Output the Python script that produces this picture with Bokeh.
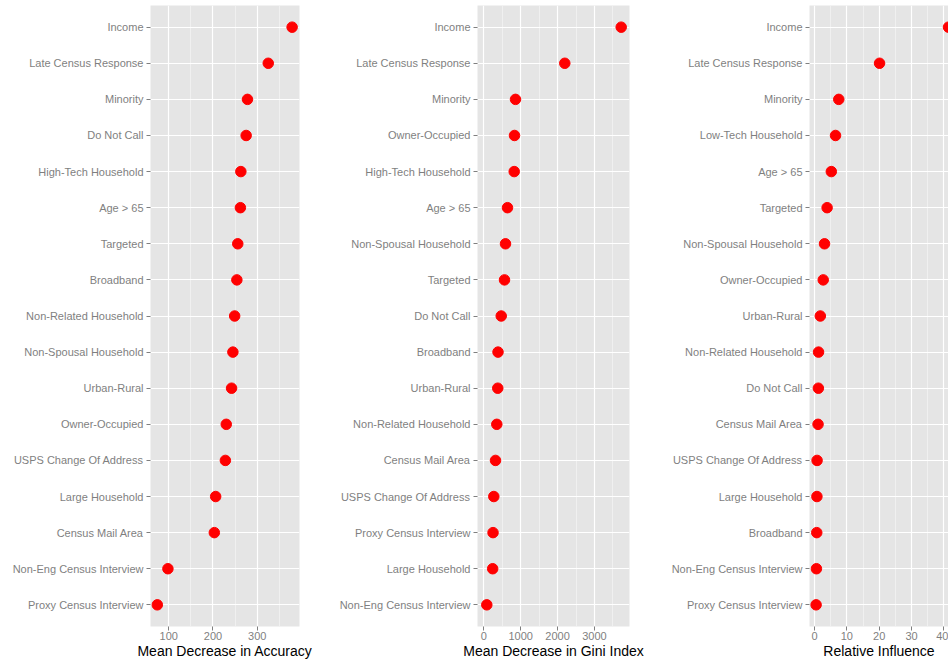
from bokeh.plotting import figure
from bokeh.layouts import row
from bokeh.models import FactorRange, Range1d, FixedTicker, ColumnDataSource
from bokeh.embed import file_html
from bokeh.resources import INLINE

# ---- data ----
acc_vars = ["Income", "Late Census Response", "Minority", "Do Not Call",
            "High-Tech Household", "Age > 65", "Targeted", "Broadband",
            "Non-Related Household", "Non-Spousal Household", "Urban-Rural",
            "Owner-Occupied", "USPS Change Of Address", "Large Household",
            "Census Mail Area", "Non-Eng Census Interview", "Proxy Census Interview"]
acc_vals = [379, 325, 278, 275, 263, 262, 256, 254, 249, 245, 242, 230, 228,
            206, 203, 98, 74]

gini_vars = ["Income", "Late Census Response", "Minority", "Owner-Occupied",
             "High-Tech Household", "Age > 65", "Non-Spousal Household", "Targeted",
             "Do Not Call", "Broadband", "Urban-Rural", "Non-Related Household",
             "Census Mail Area", "USPS Change Of Address", "Proxy Census Interview",
             "Large Household", "Non-Eng Census Interview"]
gini_vals = [3724, 2195, 859, 832, 824, 642, 588, 561, 472, 385, 378, 352, 317,
             271, 250, 240, 81]

infl_vars = ["Income", "Late Census Response", "Minority", "Low-Tech Household",
             "Age > 65", "Targeted", "Non-Spousal Household", "Owner-Occupied",
             "Urban-Rural", "Non-Related Household", "Do Not Call", "Census Mail Area",
             "USPS Change Of Address", "Large Household", "Broadband",
             "Non-Eng Census Interview", "Proxy Census Interview"]
infl_vals = [41.4, 20.1, 7.5, 6.5, 5.2, 3.9, 3.1, 2.7, 1.8, 1.25, 1.2, 1.1, 0.8,
             0.75, 0.7, 0.6, 0.5]

acc_ticks = [100, 200, 300]
acc_minor = [150, 250, 350]
gini_ticks = [0, 1000, 2000, 3000]
gini_minor = [500, 1500, 2500, 3500]
infl_ticks = [0, 10, 20, 30, 40]
infl_minor = [5, 15, 25, 35]

FONT = "Liberation Sans"
GREY = "#7F7F7F"


def panel(names, vals, xlabel, xr, ticks, minor, width, bl, br):
    src = ColumnDataSource(dict(var=names, val=vals))
    yr = FactorRange(factors=list(reversed(names)), range_padding=0.1,
                     range_padding_units="absolute")
    p = figure(width=width, height=661, x_range=Range1d(*xr), y_range=yr,
               output_backend="svg", toolbar_location=None,
               min_border_left=bl, min_border_right=br,
               min_border_top=5, min_border_bottom=34,
               background_fill_color="#E5E5E5", border_fill_color="white",
               outline_line_color=None)
    tk = FixedTicker(ticks=ticks, minor_ticks=minor)
    p.xaxis.ticker = tk
    p.xgrid.ticker = tk
    p.xgrid.grid_line_color = "white"
    p.xgrid.grid_line_width = 1.2
    p.xgrid.minor_grid_line_color = "#F2F2F2"
    p.xgrid.minor_grid_line_width = 0.8
    p.ygrid.grid_line_color = "white"
    p.ygrid.grid_line_width = 1.2

    for ax in (p.xaxis, p.yaxis):
        ax.axis_line_color = None
        ax.major_tick_line_color = GREY
        ax.major_tick_out = 4
        ax.major_tick_in = 0
        ax.minor_tick_line_color = None
        ax.major_label_text_color = GREY
        ax.major_label_text_font = FONT
        ax.major_label_text_font_size = "11px"
        ax.major_label_text_line_height = 1.0
        ax.major_label_standoff = 3
    p.xaxis.major_label_standoff = 1
    p.xaxis.axis_label = xlabel
    p.xaxis.axis_label_text_font = FONT
    p.xaxis.axis_label_text_font_size = "14px"
    p.xaxis.axis_label_text_font_style = "normal"
    p.xaxis.axis_label_text_color = "black"
    p.xaxis.axis_label_text_line_height = 1.0
    p.xaxis.axis_label_standoff = 0

    p.scatter(x="val", y="var", source=src, size=10.5, color="#FF0000")
    return p


p1 = panel(acc_vars, acc_vals, "Mean Decrease in Accuracy", (58.6, 395.7),
           acc_ticks, acc_minor, 330, 150, 31)
p2 = panel(gini_vars, gini_vals, "Mean Decrease in Gini Index", (-171, 3949),
           gini_ticks, gini_minor, 330, 147, 31)
p3 = panel(infl_vars, infl_vals, "Relative Influence", (-1.54, 41.4),
           infl_ticks, infl_minor, 288, 149, 0)

layout = row(p1, p2, p3)
open("out.html", "w").write(file_html(layout, INLINE))
